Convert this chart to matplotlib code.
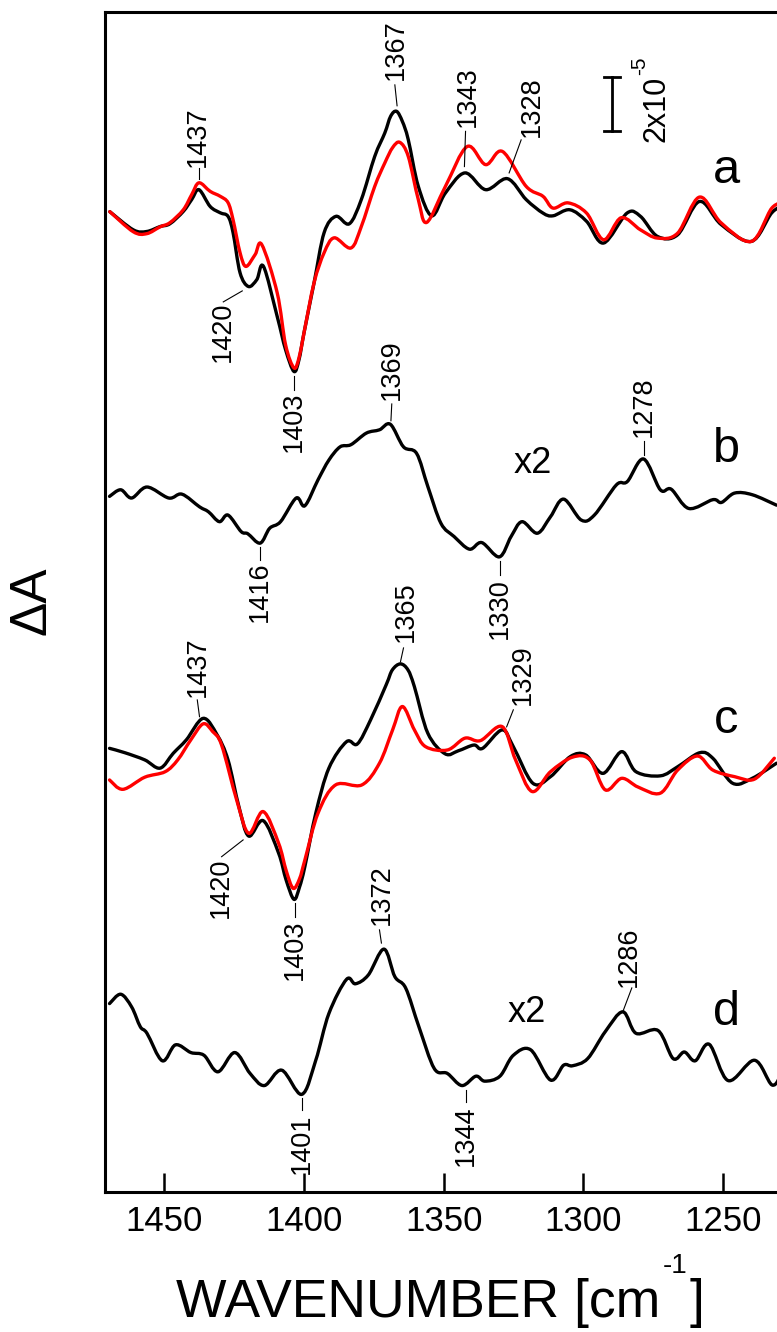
import matplotlib.pyplot as plt
from matplotlib.path import Path
from matplotlib.patches import PathPatch

plt.rcParams["font.family"] = ["Liberation Sans", "DejaVu Sans"]

# difference spectra, dA in units of 1e-5
wn_a_black = [1469.5, 1461.1, 1456.3, 1451.5, 1448.0, 1443.2, 1440.2, 1437.6, 1433.6, 1430.0,
              1427.2, 1425.4, 1422.9, 1419.9, 1416.9, 1414.5, 1409.6, 1406.6, 1403.6, 1401.8,
              1400.0, 1396.4, 1392.8, 1388.6, 1383.8, 1379.5, 1374.7, 1371.1, 1369.0, 1366.9,
              1364.8, 1362.7, 1359.1, 1354.3, 1349.4, 1342.4, 1335.0, 1327.2, 1320.5, 1314.5,
              1310.9, 1304.9, 1298.9, 1292.8, 1284.4, 1279.6, 1273.5, 1266.3, 1258.5, 1250.7,
              1239.9, 1232.6, 1228.0]
a_black = [0.11, -0.55, -0.61, -0.43, -0.33, 0.12, 0.55, 0.91, 0.30, 0.07,
           -0.06, -0.65, -2.11, -2.61, -2.36, -1.88, -3.70, -4.91, -5.70, -5.27,
           -4.29, -2.47, -0.65, -0.06, -0.33, 0.55, 2.12, 2.97, 3.58, 3.76,
           3.39, 2.73, 1.03, -0.04, 0.79, 1.52, 0.91, 1.31, 0.55, 0.06,
           -0.04, 0.18, -0.24, -1.03, 0.06, -0.06, -0.79, -0.73, 0.48, -0.36,
           -0.97, 0.07, 0.36]

wn_a_red = [1469.5, 1461.1, 1456.3, 1451.5, 1448.0, 1443.2, 1440.2, 1437.6, 1433.6, 1430.0,
            1427.2, 1425.4, 1422.9, 1420.8, 1417.5, 1415.1, 1409.6, 1406.6, 1403.6, 1401.8,
            1400.0, 1396.4, 1392.8, 1389.2, 1383.2, 1379.5, 1374.7, 1371.1, 1368.3, 1365.7,
            1362.7, 1359.1, 1356.1, 1349.4, 1341.6, 1335.0, 1329.0, 1320.5, 1314.5, 1310.9,
            1305.5, 1298.9, 1292.8, 1286.5, 1279.6, 1273.5, 1266.3, 1258.5, 1250.7, 1239.9,
            1232.6, 1228.0]
a_red = [0.11, -0.62, -0.69, -0.44, -0.29, 0.18, 0.73, 1.16, 0.85, 0.67,
         0.44, -0.18, -1.38, -1.88, -1.45, -1.09, -2.84, -4.73, -5.57, -5.20,
         -4.29, -2.47, -1.38, -0.84, -1.21, -0.43, 1.03, 1.88, 2.44, 2.63,
         2.12, 0.55, -0.28, 1.03, 2.48, 1.82, 2.30, 1.03, 0.67, 0.24,
         0.43, 0.06, -0.91, -0.11, -0.55, -0.85, -0.67, 0.64, -0.30, -0.97,
         0.24, 0.44]

wn_b = [1469.6, 1465.6, 1461.7, 1456.2, 1448.4, 1443.7, 1437.4, 1434.2, 1430.3, 1427.2,
        1422.5, 1420.1, 1415.7, 1412.3, 1408.4, 1402.8, 1399.7, 1395.0, 1391.1, 1387.1,
        1383.2, 1377.7, 1373.0, 1369.1, 1364.4, 1359.7, 1355.7, 1351.0, 1346.3, 1340.8,
        1336.4, 1330.1, 1325.9, 1322.0, 1316.5, 1311.8, 1307.1, 1300.8, 1296.1, 1288.2,
        1284.3, 1278.5, 1272.5, 1268.6, 1262.3, 1253.7, 1250.6, 1245.9, 1239.6, 1230.9]
b_diff = [0.01, 0.13, -0.02, 0.18, -0.02, 0.05, -0.18, -0.27, -0.45, -0.33,
          -0.63, -0.67, -0.84, -0.57, -0.45, -0.02, -0.16, 0.31, 0.67, 0.91,
          0.95, 1.16, 1.22, 1.32, 0.91, 0.79, 0.19, -0.48, -0.72, -0.95,
          -0.83, -1.09, -0.72, -0.45, -0.66, -0.36, -0.04, -0.42, -0.33, 0.22,
          0.28, 0.69, 0.13, 0.14, -0.21, -0.05, -0.10, 0.07, 0.04, -0.15]

wn_c_black = [1469.6, 1464.1, 1457.0, 1451.5, 1446.8, 1442.1, 1436.1, 1431.1, 1427.2, 1423.3,
              1419.8, 1414.6, 1409.1, 1406.4, 1403.6, 1401.6, 1399.7, 1395.8, 1391.1, 1384.8,
              1380.9, 1376.2, 1370.6, 1368.4, 1365.5, 1362.8, 1360.5, 1355.7, 1349.5, 1344.8,
              1339.2, 1336.1, 1329.1, 1325.1, 1318.1, 1311.8, 1304.7, 1299.2, 1293.0, 1286.3,
              1281.2, 1272.5, 1266.3, 1258.4, 1253.7, 1246.6, 1239.6, 1230.9]
c_black = [0.24, 0.08, -0.18, -0.48, 0.06, 0.55, 1.33, 0.73, -0.18, -1.88,
           -2.95, -2.39, -3.57, -4.55, -5.25, -4.80, -4.06, -2.12, -0.48, 0.48,
           0.40, 1.27, 2.55, 3.09, 3.31, 3.09, 2.48, 0.79, 0.04, 0.15,
           0.36, 0.24, 0.91, 0.30, -1.03, -0.79, -0.06, 0.00, -0.67, 0.12,
           -0.61, -0.76, -0.43, 0.08, -0.12, -1.03, -0.85, -0.30]

wn_c_red = [1469.6, 1464.8, 1457.0, 1449.7, 1445.2, 1440.5, 1436.1, 1432.7, 1429.5, 1424.1,
            1419.8, 1414.6, 1409.1, 1406.4, 1403.9, 1401.6, 1399.7, 1395.0, 1388.7, 1379.3,
            1373.0, 1368.3, 1364.8, 1360.5, 1356.5, 1348.7, 1342.4, 1336.9, 1329.1, 1324.3,
            1318.4, 1311.8, 1303.9, 1297.7, 1292.2, 1286.3, 1280.4, 1272.5, 1266.3, 1259.2,
            1253.7, 1245.9, 1238.8, 1231.7]
c_red = [-0.91, -1.25, -0.81, -0.61, -0.18, 0.55, 1.13, 0.85, 0.36, -1.64,
         -2.85, -2.06, -3.21, -4.20, -4.85, -4.50, -3.82, -2.12, -1.09, -1.09,
         -0.30, 0.91, 1.76, 0.91, 0.30, 0.18, 0.61, 0.52, 1.03, -0.18,
         -1.33, -0.61, -0.08, -0.18, -1.27, -0.85, -1.17, -1.39, -0.55, -0.04,
         -0.55, -0.79, -0.88, -0.12]

wn_d = [1469.6, 1465.6, 1461.7, 1458.6, 1456.2, 1450.7, 1446.0, 1440.5, 1435.8, 1430.8,
        1424.8, 1419.3, 1414.2, 1408.0, 1400.8, 1395.8, 1391.1, 1384.8, 1381.6, 1377.0,
        1371.4, 1367.5, 1363.6, 1358.9, 1353.4, 1348.7, 1343.5, 1338.5, 1335.3, 1329.9,
        1325.1, 1318.9, 1311.8, 1307.1, 1303.9, 1298.5, 1292.2, 1285.9, 1281.2, 1273.3,
        1267.9, 1263.9, 1260.0, 1255.0, 1248.2, 1238.8, 1232.5, 1229.0]
d_diff = [0.99, 1.16, 0.93, 0.57, 0.45, -0.05, 0.24, 0.10, 0.05, -0.25,
          0.10, -0.28, -0.50, -0.22, -0.66, -0.04, 0.81, 1.43, 1.35, 1.51,
          1.98, 1.48, 1.27, 0.57, -0.19, -0.28, -0.50, -0.33, -0.42, -0.33,
          0.05, 0.15, -0.40, -0.13, -0.14, -0.01, 0.48, 0.84, 0.45, 0.50,
          -0.01, 0.11, -0.05, 0.25, -0.41, -0.04, -0.49, -0.27]

# vertical offsets of the stacked spectra and magnification of b and d
offsets = {"a": 35.53, "b": 25.27, "c": 15.89, "d": 4.87}
mag = {"a": 1, "b": 2, "c": 1, "d": 2}

fig = plt.figure(figsize=(7.77, 13.32), dpi=100)
ax = fig.add_axes([0.1345, 0.1051, 0.8732, 0.8859])


def smooth(xs, ys):
    # cubic bezier segments through the measured points (Catmull-Rom tangents)
    verts, codes = [(xs[0], ys[0])], [Path.MOVETO]
    n = len(xs)
    for i in range(n - 1):
        xp, yp = (xs[i - 1], ys[i - 1]) if i > 0 else (xs[i], ys[i])
        xn, yn = (xs[i + 2], ys[i + 2]) if i + 2 < n else (xs[i + 1], ys[i + 1])
        verts += [(xs[i] + (xs[i + 1] - xp) / 6, ys[i] + (ys[i + 1] - yp) / 6),
                  (xs[i + 1] - (xn - xs[i]) / 6, ys[i + 1] - (yn - ys[i]) / 6),
                  (xs[i + 1], ys[i + 1])]
        codes += [Path.CURVE4] * 3
    return Path(verts, codes)


def trace(wn, vals, key, color):
    ys = [offsets[key] + mag[key] * v for v in vals]
    ax.add_patch(PathPatch(smooth(wn, ys), fill=False, edgecolor=color, lw=2.4,
                           joinstyle="round", capstyle="round"))


trace(wn_a_black, a_black, "a", "black")
trace(wn_a_red, a_red, "a", "#ff0000")
trace(wn_b, b_diff, "b", "black")
trace(wn_c_black, c_black, "c", "black")
trace(wn_c_red, c_red, "c", "#ff0000")
trace(wn_d, d_diff, "d", "black")

# peak labels: text, x, y of text end, side, leader (x0, y0, x1, y1)
peaks = [
    ("1437", 1437.9, 37.27, "up", (1437.5, 37.24, 1437.5, 36.84)),
    ("1420", 1428.9, 32.36, "down", (1428.9, 32.36, 1422.1, 32.76)),
    ("1403", 1403.5, 29.09, "down", (1403.5, 29.67, 1403.5, 29.16)),
    ("1367", 1367.3, 40.44, "up", (1367.5, 40.25, 1366.7, 39.49)),
    ("1343", 1341.3, 38.73, "up", (1342.2, 38.56, 1342.6, 37.28)),
    ("1328", 1318.6, 38.36, "up", (1322.3, 38.25, 1326.6, 37.05)),
    ("1369", 1368.4, 28.80, "up", (1368.6, 28.65, 1368.9, 28.04)),
    ("1416", 1415.7, 22.91, "down", (1415.7, 23.45, 1415.7, 22.98)),
    ("1330", 1330.0, 22.33, "down", (1330.0, 22.95, 1330.0, 22.44)),
    ("1278", 1278.4, 27.45, "up", (1278.4, 27.31, 1278.4, 26.80)),
    ("1437", 1437.9, 18.00, "up", (1438.2, 17.89, 1437.4, 17.28)),
    ("1365", 1363.7, 20.00, "up", (1364.4, 19.78, 1365.5, 19.27)),
    ("1329", 1321.6, 17.71, "up", (1325.1, 17.53, 1327.5, 16.91)),
    ("1420", 1429.7, 12.15, "down", (1429.5, 12.19, 1421.8, 12.80)),
    ("1403", 1403.1, 9.89, "down", (1403.1, 10.51, 1403.1, 10.00)),
    ("1372", 1372.3, 9.71, "up", (1373.0, 9.53, 1372.3, 9.05)),
    ("1401", 1400.6, 2.87, "down", (1400.6, 3.42, 1400.6, 2.98)),
    ("1344", 1342.2, 3.16, "down", (1342.2, 3.71, 1342.2, 3.27)),
    ("1286", 1283.8, 7.45, "up", (1282.7, 7.42, 1285.9, 6.56)),
]
for s, x, y, side, (x0, y0, x1, y1) in peaks:
    ax.plot([x0, x1], [y0, y1], color="black", lw=0.8)
    ax.text(x, y, s, rotation=90, ha="center", va="bottom" if side == "up" else "top",
            fontsize=19.5)

# trace letters and magnification marks
for key, y in [("a", 36.69), ("b", 26.55), ("c", 16.69), ("d", 6.07)]:
    ax.text(1248.8, y, key, fontsize=35, ha="center", va="baseline")
ax.text(1318.2, 26.15, "x2", fontsize=26, ha="center", va="baseline")
ax.text(1320.3, 6.18, "x2", fontsize=26, ha="center", va="baseline")

# scale bar, 2x10^-5
bar_x, bar_lo, bar_hi = 1289.7, 38.56, 40.54
ax.plot([bar_x, bar_x], [bar_lo, bar_hi], color="black", lw=2)
for yy in (bar_lo, bar_hi):
    ax.plot([bar_x - 2.9, bar_x + 2.9], [yy, yy], color="black", lw=2)
ax.text(1274.0, 38.18, "2x10", rotation=90, ha="center", va="bottom", fontsize=22)
ax.text(1280.0, 40.62, "-5", rotation=90, ha="center", va="bottom", fontsize=15)

ax.set_xlim(1471.4, 1228.6)
ax.set_ylim(0, 42.9)
ax.set_xticks([1450, 1400, 1350, 1300, 1250])
ax.set_yticks([])
ax.tick_params(axis="x", direction="in", length=13.5, width=1.8, labelsize=25, pad=9)
for sp in ax.spines.values():
    sp.set_linewidth(2.2)

# axis titles, the -1 exponent set as its own small text
xl = fig.text(176 / 777, 0.0113, "WAVENUMBER [cm", ha="left", va="baseline", fontsize=38.5)
sup = ax.annotate("-1", xy=(1.0, 0.0443), xycoords=(xl, "figure fraction"),
                  xytext=(1.5, 0), textcoords="offset points",
                  ha="left", va="baseline", fontsize=20)
ax.annotate("]", xy=(1.0, 0.0113), xycoords=(sup, "figure fraction"),
            xytext=(1.5, 0), textcoords="offset points",
            ha="left", va="baseline", fontsize=38.5)
fig.text(0.0408, 0.5488, "\u0394A", rotation=90, ha="center", va="center", fontsize=37)

fig.savefig("out.png", dpi=100)
